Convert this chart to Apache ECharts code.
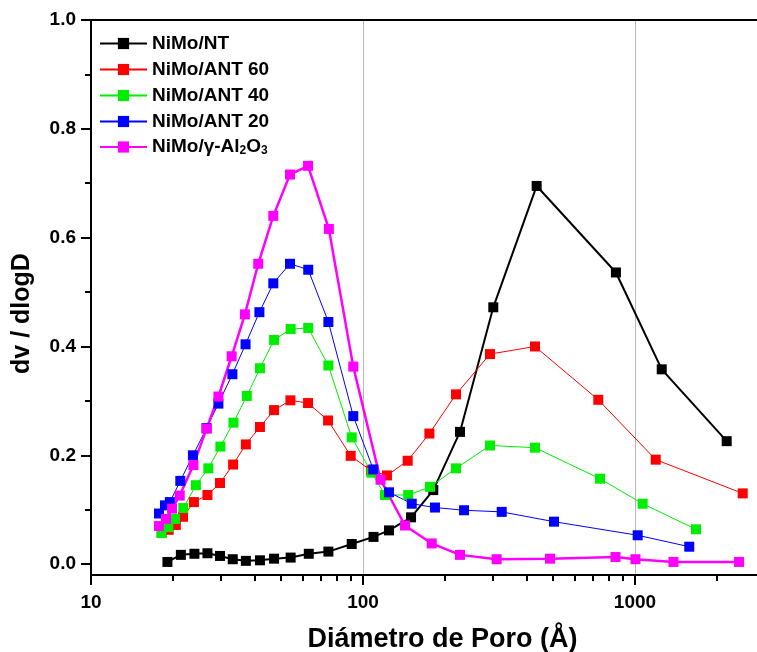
<!DOCTYPE html>
<html><head><meta charset="utf-8">
<script src="https://cdn.jsdelivr.net/npm/echarts@6/dist/echarts.min.js"></script>
<style>html,body{margin:0;padding:0;background:#fff}#c{width:757px;height:652px}</style>
</head><body><div id="c"></div>
<script>
const seriesNames = ['NiMo/NT', 'NiMo/ANT 60', 'NiMo/ANT 40', 'NiMo/ANT 20', 'NiMo/γ-Al2O3'];
const seriesColors = ['#000000', '#ff0000', '#00ee00', '#0000ff', '#ff00ff'];

const ntD = [19.1, 21.4, 24.0, 26.8, 29.8, 33.2, 37.1, 41.8, 47.1, 54.2, 63.2, 74.6, 90.9, 109.3, 124.6, 150.2, 181.3, 227.3, 301.3, 435, 851, 1254, 2173];
const ntV = [0.004, 0.017, 0.019, 0.020, 0.015, 0.009, 0.006, 0.007, 0.010, 0.012, 0.019, 0.023, 0.037, 0.050, 0.062, 0.086, 0.136, 0.243, 0.472, 0.695, 0.536, 0.358, 0.226];

const ant60D = [18.2, 19.3, 20.5, 21.8, 23.9, 26.8, 29.8, 33.3, 37.1, 41.8, 47.1, 54.1, 62.8, 74.4, 90.1, 107, 122.5, 146, 175.4, 219.8, 293.1, 429, 733, 1192, 2489];
const ant60V = [0.058, 0.063, 0.072, 0.087, 0.114, 0.127, 0.149, 0.183, 0.220, 0.252, 0.283, 0.301, 0.296, 0.264, 0.199, 0.172, 0.163, 0.190, 0.240, 0.312, 0.386, 0.400, 0.302, 0.192, 0.130];

const ant40D = [18.16, 19.24, 20.37, 21.84, 24.3, 27.0, 29.9, 33.4, 37.4, 41.8, 47.1, 54.2, 62.9, 74.6, 90.9, 107.5, 120.5, 146.7, 176.4, 219.8, 293.1, 429, 743.6, 1067, 1676];
const ant40V = [0.057, 0.068, 0.083, 0.103, 0.145, 0.176, 0.216, 0.260, 0.309, 0.360, 0.412, 0.432, 0.434, 0.365, 0.233, 0.168, 0.127, 0.127, 0.142, 0.176, 0.218, 0.214, 0.157, 0.111, 0.064];

const ant20D = [17.78, 18.71, 19.5, 21.3, 23.7, 26.6, 29.4, 33.1, 37.0, 41.6, 46.8, 53.9, 62.9, 74.6, 92.1, 109.1, 124.6, 151.1, 183.9, 235.2, 323.6, 503.8, 1023, 1583];
const ant20V = [0.093, 0.108, 0.114, 0.153, 0.200, 0.250, 0.295, 0.349, 0.404, 0.463, 0.516, 0.552, 0.541, 0.445, 0.272, 0.174, 0.132, 0.111, 0.104, 0.099, 0.096, 0.078, 0.053, 0.032];

const aluD = [17.78, 18.87, 19.86, 21.2, 23.8, 26.6, 29.4, 32.9, 36.8, 41.2, 46.8, 53.9, 62.8, 74.9, 92.1, 116, 142.7, 178.9, 227.3, 310, 487, 848, 1004, 1385, 2413];
const aluV = [0.070, 0.083, 0.102, 0.126, 0.182, 0.249, 0.308, 0.382, 0.459, 0.552, 0.640, 0.716, 0.732, 0.616, 0.363, 0.155, 0.071, 0.038, 0.017, 0.009, 0.010, 0.013, 0.009, 0.004, 0.004];

const xMajorTicks = [10, 100, 1000];
const xMinorTicks = [20, 30, 40, 50, 60, 70, 80, 90, 200, 300, 400, 500, 600, 700, 800, 900, 2000];
const yMajorTicks = [0, 0.2, 0.4, 0.6, 0.8, 1.0];
const yMinorTicks = [0.1, 0.3, 0.5, 0.7, 0.9];

const FONT = '"Liberation Sans", Arial, sans-serif';
const X_MIN = 10, X_MAX = 2809, Y_MIN = -0.02, Y_MAX = 1.0;

const allD = [ntD, ant60D, ant40D, ant20D, aluD];
const allV = [ntV, ant60V, ant40V, ant20V, aluV];
const lineWidths = [2, 1, 1, 1, 2.5];

function pairs(xs, ys) { return xs.map((x, i) => [x, ys[i]]); }

const chart = echarts.init(document.getElementById('c'), null, { renderer: 'canvas' });

const series = seriesNames.map((name, i) => ({
  name: name,
  type: 'line',
  xAxisIndex: 0,
  yAxisIndex: 0,
  data: pairs(allD[i], allV[i]),
  symbol: 'rect',
  symbolSize: 10,
  showSymbol: true,
  lineStyle: { color: seriesColors[i], width: lineWidths[i] },
  itemStyle: { color: seriesColors[i] },
  emphasis: { disabled: true },
  animation: false
}));

const legendText = {
  fontFamily: FONT, fontWeight: 'bold', fontSize: 19, color: '#000', lineHeight: 19,
  rich: {
    n: { fontFamily: FONT, fontWeight: 'bold', fontSize: 19, color: '#000', lineHeight: 19 },
    s: { fontFamily: FONT, fontWeight: 'bold', fontSize: 12, color: '#000', lineHeight: 6, verticalAlign: 'bottom', padding: [13, 0, 0, 0] }
  }
};
const legendFormatter = function (name) {
  if (name === 'NiMo/γ-Al2O3') return '{n|NiMo/γ-Al}{s|2}{n|O}{s|3}';
  return '{n|' + name + '}';
};

const option = {
  animation: false,
  backgroundColor: '#ffffff',
  textStyle: { fontFamily: FONT },
  grid: { left: 91, right: 0, top: 20, bottom: 77, containLabel: false, outerBoundsMode: 'none' },
  legend: [
    {
      orient: 'vertical', left: 94, top: 29, itemWidth: 47, itemHeight: 14, itemGap: 7,
      data: seriesNames.slice(0, 4), formatter: legendFormatter, textStyle: legendText,
      selectedMode: false
    },
    {
      orient: 'vertical', left: 94, top: 126.5, itemWidth: 47, itemHeight: 14, itemGap: 7,
      data: seriesNames.slice(4), formatter: legendFormatter, textStyle: legendText,
      selectedMode: false
    }
  ],
  xAxis: [
    {
      type: 'log', logBase: 10, min: X_MIN, max: X_MAX, position: 'bottom',
      name: 'Diámetro de Poro (Å)', nameLocation: 'middle', nameGap: 51,
      nameTextStyle: { fontFamily: FONT, fontWeight: 'bold', fontSize: 27, color: '#000', padding: [0, 0, 0, 37] },
      axisLine: { show: true, onZero: false, lineStyle: { color: '#000', width: 2 } },
      axisTick: { show: true, inside: false, length: 10, lineStyle: { color: '#000', width: 2 }, customValues: xMajorTicks },
      axisLabel: { show: true, margin: 18, customValues: xMajorTicks, fontFamily: FONT, fontWeight: 'bold', fontSize: 19, color: '#000', formatter: v => String(Math.round(v)) },
      splitLine: { show: true, lineStyle: { color: '#b8b8b8', width: 1 } },
      minorTick: { show: false }, minorSplitLine: { show: false }
    },
    {
      type: 'log', logBase: 10, min: X_MIN, max: X_MAX, position: 'bottom', gridIndex: 0,
      axisLine: { show: false, onZero: false },
      axisTick: { show: true, inside: false, length: 6, lineStyle: { color: '#000', width: 2 }, customValues: xMinorTicks },
      axisLabel: { show: false },
      splitLine: { show: false }
    },
    {
      type: 'log', logBase: 10, min: X_MIN, max: X_MAX, position: 'top', gridIndex: 0,
      axisLine: { show: true, onZero: false, lineStyle: { color: '#000', width: 2 } },
      axisTick: { show: false }, axisLabel: { show: false }, splitLine: { show: false }
    }
  ],
  yAxis: [
    {
      type: 'value', min: Y_MIN, max: Y_MAX, position: 'left',
      name: 'dv / dlogD', nameLocation: 'middle', nameGap: 56, nameRotate: 90,
      nameTextStyle: { fontFamily: FONT, fontWeight: 'bold', fontSize: 25, color: '#000', padding: [0, 32, 0, 0] },
      axisLine: { show: true, onZero: false, lineStyle: { color: '#000', width: 2 } },
      axisTick: { show: true, inside: false, length: 10, lineStyle: { color: '#000', width: 2 }, customValues: yMajorTicks },
      axisLabel: { show: true, margin: 15, customValues: yMajorTicks, fontFamily: FONT, fontWeight: 'bold', fontSize: 19, color: '#000', formatter: v => Number(v).toFixed(1) },
      splitLine: { show: false }
    },
    {
      type: 'value', min: Y_MIN, max: Y_MAX, position: 'left', gridIndex: 0,
      axisLine: { show: false, onZero: false },
      axisTick: { show: true, inside: false, length: 6, lineStyle: { color: '#000', width: 2 }, customValues: yMinorTicks },
      axisLabel: { show: false },
      splitLine: { show: false }
    }
  ],
  series: series
};

chart.setOption(option);
</script>
</body></html>
